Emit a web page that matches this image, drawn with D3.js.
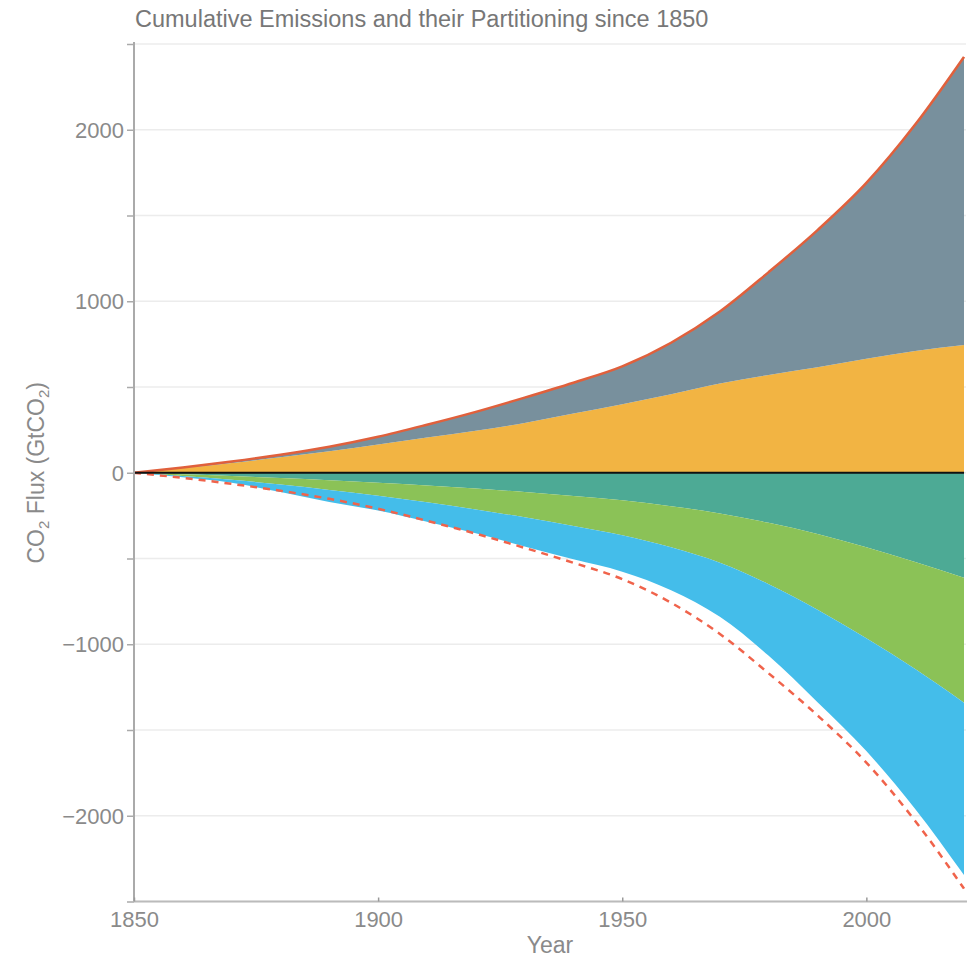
<!DOCTYPE html>
<html>
<head>
<meta charset="utf-8">
<script src="https://cdn.jsdelivr.net/npm/d3@7"></script>
<style>
  html, body { margin: 0; padding: 0; background: #fff; }
  svg { display: block; font-family: "Liberation Sans", Arial, Helvetica, sans-serif; }
</style>
</head>
<body>
<svg id="chart" width="969" height="959"></svg>
<script>
// Cumulative CO2 since 1850 (GtCO2), by source and by sink
const years      = [1850, 1860, 1870, 1880, 1890, 1900, 1910, 1920, 1930, 1940, 1950, 1960, 1970, 1980, 1990, 2000, 2010, 2020];
const fossil     = [0, 3, 8, 15, 27, 45, 75, 110, 148, 180, 220, 300, 420, 600, 800, 1025, 1320, 1680];
const landUse    = [0, 27, 57, 90, 125, 165, 205, 245, 290, 345, 400, 458, 520, 570, 615, 665, 710, 745];
const oceanSink  = [0, 9, 19, 31, 44, 58, 74, 92, 112, 135, 160, 195, 237, 292, 357, 435, 520, 612];
const landSink   = [0, 10, 22, 38, 56, 76, 98, 122, 148, 175, 205, 240, 288, 358, 442, 530, 625, 729];
const atmosphere = [0, 7, 17, 43, 70, 86, 113, 139, 170, 195, 212, 250, 315, 417, 539, 658, 815, 1005];

const yTicks = [-2500, -2000, -1500, -1000, -500, 0, 500, 1000, 1500, 2000, 2500];
const yLabels = [-2000, -1000, 0, 1000, 2000];
const xTicks = [1850, 1900, 1950, 2000];

// stacked layout: sources above zero, sinks below
const rows = years.map((yr, i) => ({
  year: yr,
  landUse: landUse[i],
  fossil: fossil[i],
  ocean: -oceanSink[i],
  land: -landSink[i],
  atmosphere: -atmosphere[i]
}));
const keys = ["landUse", "fossil", "ocean", "land", "atmosphere"];
const colors = {
  landUse: "#F2B443",
  fossil: "#78909D",
  ocean: "#4DAA95",
  land: "#8BC257",
  atmosphere: "#44BDEA"
};
const series = d3.stack().keys(keys).offset(d3.stackOffsetDiverging)(rows);
const totals = years.map((yr, i) => ({ year: yr, v: fossil[i] + landUse[i] }));

const svg = d3.select("#chart");
const x = d3.scaleLinear().domain([1850, 2020]).range([134, 964]);
const y = d3.scaleLinear().domain([-2500, 2500]).range([901.5, 44]);

// grid
svg.append("g").selectAll("line").data(yTicks).join("line")
  .attr("x1", x(1850)).attr("x2", 966)
  .attr("y1", d => y(d)).attr("y2", d => y(d))
  .attr("stroke", "#ececec").attr("stroke-width", 1.5);

// areas
const area = d3.area()
  .x(d => x(d.data.year))
  .y0(d => y(d[0]))
  .y1(d => y(d[1]))
  .curve(d3.curveMonotoneX);
svg.append("g").selectAll("path").data(series).join("path")
  .attr("d", area)
  .attr("fill", d => colors[d.key]);

// total emissions line and its mirror below zero
const line = d3.line().x(d => x(d.year)).y(d => y(d.v)).curve(d3.curveMonotoneX);
svg.append("path").datum(totals)
  .attr("d", line).attr("fill", "none")
  .attr("stroke", "#E0603C").attr("stroke-width", 2.5);
svg.append("path").datum(totals.map(d => ({ year: d.year, v: -d.v })))
  .attr("d", line).attr("fill", "none")
  .attr("stroke", "#F0634B").attr("stroke-width", 2.5)
  .attr("stroke-dasharray", "7,6");

// zero line
svg.append("line")
  .attr("x1", x(1850)).attr("x2", x(2020))
  .attr("y1", y(0)).attr("y2", y(0))
  .attr("stroke", "#111").attr("stroke-width", 2);

// y axis
const yAxis = svg.append("g").attr("transform", `translate(${x(1850)},0)`)
  .call(d3.axisLeft(y).tickValues(yTicks).tickSize(7).tickSizeOuter(0)
    .tickFormat(d => yLabels.includes(d) ? d3.format("")(d).replace("-", "\u2212") : ""));
yAxis.select(".domain").attr("stroke", "#aaa").attr("stroke-width", 2)
  .attr("d", `M0,${y(2500) - 2}V${y(-2500)}`);
yAxis.selectAll(".tick line").attr("stroke", "#aaa").attr("stroke-width", 1.5);
yAxis.selectAll(".tick text").attr("fill", "#8a8a8a").attr("font-size", 22)
  .attr("x", -10).attr("dy", "0.35em");

// x axis
const xAxis = svg.append("g").attr("transform", `translate(0,${y(-2500)})`)
  .call(d3.axisBottom(x).tickValues(xTicks).tickSize(-4).tickSizeOuter(0).tickFormat(d3.format("d")));
xAxis.select(".domain").attr("stroke", "#bbb").attr("stroke-width", 2)
  .attr("d", `M${x(1850)},0H967`);
xAxis.selectAll(".tick line").attr("stroke", "#999").attr("stroke-width", 1.5);
xAxis.selectAll(".tick text").attr("fill", "#8a8a8a").attr("font-size", 22)
  .attr("y", 10).attr("dy", "0.71em");

// titles
svg.append("text").attr("x", 135).attr("y", 27)
  .attr("fill", "#777").attr("font-size", 23.5)
  .text("Cumulative Emissions and their Partitioning since 1850");

svg.append("text").attr("x", 550).attr("y", 953)
  .attr("text-anchor", "middle").attr("fill", "#8a8a8a").attr("font-size", 23)
  .text("Year");

const yl = svg.append("text")
  .attr("transform", `translate(44,${y(0)}) rotate(-90)`)
  .attr("text-anchor", "middle").attr("fill", "#8a8a8a").attr("font-size", 23);
yl.append("tspan").text("CO");
yl.append("tspan").attr("font-size", 15).attr("dy", 5).text("2");
yl.append("tspan").attr("dy", -5).text(" Flux (GtCO");
yl.append("tspan").attr("font-size", 15).attr("dy", 5).text("2");
yl.append("tspan").attr("dy", -5).text(")");
</script>
</body>
</html>
